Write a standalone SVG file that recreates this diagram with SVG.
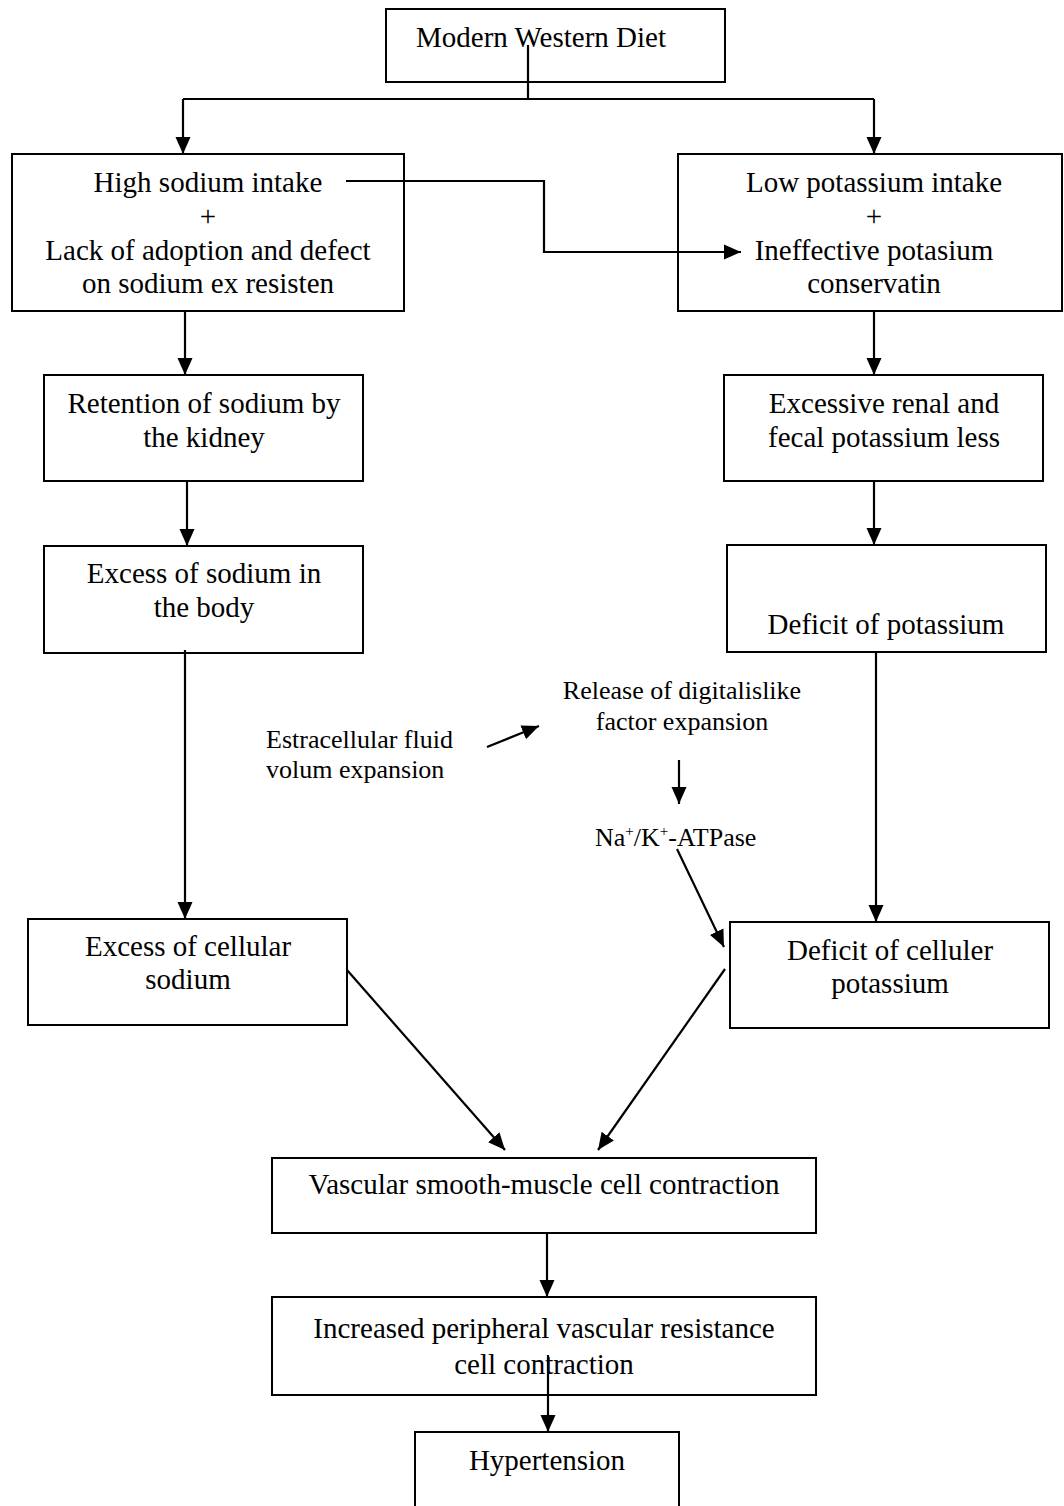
<svg xmlns="http://www.w3.org/2000/svg" width="1064" height="1506" viewBox="0 0 1064 1506">
  <style>
    .box { fill: #ffffff; stroke: #000000; stroke-width: 2; }
    .t { font-family: "Liberation Serif", "Times New Roman", serif; font-size: 29px; fill: #000000; text-anchor: middle; }
    .s { font-family: "Liberation Serif", "Times New Roman", serif; font-size: 26px; fill: #000000; }
    .c { text-anchor: middle; }
    .ln { fill: none; stroke: #000000; stroke-width: 2.2; }
    .arr { fill: none; stroke: #000000; stroke-width: 2.2; marker-end: url(#head); }
  </style>
  <defs>
    <marker id="head" markerUnits="userSpaceOnUse" markerWidth="18" markerHeight="16" refX="17" refY="8" orient="auto">
      <path d="M0,0.5 L17,8 L0,15.5 z" fill="#000000"/>
    </marker>
  </defs>

  <rect width="1064" height="1506" fill="#ffffff"/>

  <!-- boxes -->
  <g id="diet">
    <rect class="box" x="386" y="9" width="339" height="73"/>
    <text class="t" x="541" y="47">Modern Western Diet</text>
  </g>
  <g id="sodium-intake">
    <rect class="box" x="12" y="154" width="392" height="157"/>
    <text class="t" x="208" y="192">High sodium intake</text>
    <text class="t" x="208" y="226">+</text>
    <text class="t" x="208" y="260">Lack of adoption and defect</text>
    <text class="t" x="208" y="293">on sodium ex resisten</text>
  </g>
  <g id="potassium-intake">
    <rect class="box" x="678" y="154" width="384" height="157"/>
    <text class="t" x="874" y="192">Low potassium intake</text>
    <text class="t" x="874" y="226">+</text>
    <text class="t" x="874" y="260">Ineffective potasium</text>
    <text class="t" x="874" y="293">conservatin</text>
  </g>
  <g id="retention">
    <rect class="box" x="44" y="375" width="319" height="106"/>
    <text class="t" x="204" y="413">Retention of sodium by</text>
    <text class="t" x="204" y="447">the kidney</text>
  </g>
  <g id="excess-body">
    <rect class="box" x="44" y="546" width="319" height="107"/>
    <text class="t" x="204" y="583">Excess of sodium in</text>
    <text class="t" x="204" y="617">the body</text>
  </g>
  <g id="renal-loss">
    <rect class="box" x="724" y="375" width="319" height="106"/>
    <text class="t" x="884" y="413">Excessive renal and</text>
    <text class="t" x="884" y="447">fecal potassium less</text>
  </g>
  <g id="deficit-potassium">
    <rect class="box" x="727" y="545" width="319" height="107"/>
    <text class="t" x="886" y="634">Deficit of potassium</text>
  </g>
  <g id="extracellular">
    <text class="s" x="266" y="748">Estracellular fluid</text>
    <text class="s" x="266" y="778">volum expansion</text>
  </g>
  <g id="digitalislike">
    <text class="s c" x="682" y="699">Release of digitalislike</text>
    <text class="s c" x="682" y="730">factor expansion</text>
  </g>
  <g id="atpase">
    <text class="s" x="595" y="846" font-size="27">Na<tspan font-size="15" dy="-10">+</tspan><tspan dy="10">/K</tspan><tspan font-size="15" dy="-10">+</tspan><tspan dy="10">-ATPase</tspan></text>
  </g>
  <g id="cellular-sodium">
    <rect class="box" x="28" y="919" width="319" height="106"/>
    <text class="t" x="188" y="956">Excess of cellular</text>
    <text class="t" x="188" y="989">sodium</text>
  </g>
  <g id="cellular-potassium">
    <rect class="box" x="730" y="922" width="319" height="106"/>
    <text class="t" x="890" y="960">Deficit of celluler</text>
    <text class="t" x="890" y="993">potassium</text>
  </g>
  <g id="contraction">
    <rect class="box" x="272" y="1158" width="544" height="75"/>
    <text class="t" x="544" y="1194">Vascular smooth-muscle cell contraction</text>
  </g>
  <g id="resistance">
    <rect class="box" x="272" y="1297" width="544" height="98"/>
    <text class="t" x="544" y="1338">Increased peripheral vascular resistance</text>
    <text class="t" x="544" y="1374">cell contraction</text>
  </g>
  <g id="hypertension">
    <rect class="box" x="415" y="1432" width="264" height="90"/>
    <text class="t" x="547" y="1470">Hypertension</text>
  </g>

  <!-- connectors -->
  <g id="connectors">
    <path class="ln" d="M528,45 V99"/>
    <path class="ln" d="M183,99 H874"/>
    <path class="arr" d="M183,99 V154"/>
    <path class="arr" d="M874,99 V154"/>
    <path class="arr" d="M346,181 H544 V252 H741"/>
    <path class="arr" d="M185,311 V375"/>
    <path class="arr" d="M187,481 V546"/>
    <path class="arr" d="M185,650 V919"/>
    <path class="arr" d="M874,311 V375"/>
    <path class="arr" d="M874,481 V545"/>
    <path class="arr" d="M876,652 V922"/>
    <path class="arr" d="M487,747 L539,726"/>
    <path class="arr" d="M679,760 V804"/>
    <path class="arr" d="M677,849 L724,947"/>
    <path class="arr" d="M347,970 L505,1150"/>
    <path class="arr" d="M725,969 L598,1150"/>
    <path class="arr" d="M547,1233 V1297"/>
    <path class="arr" d="M548,1355 V1432"/>
  </g>
</svg>
